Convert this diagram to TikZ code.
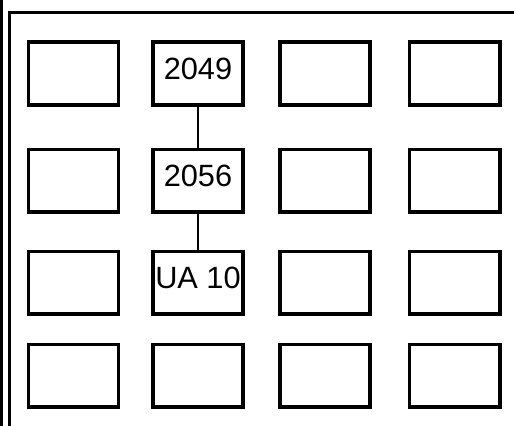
\documentclass[tikz,border=0pt]{standalone}
\usepackage{fontspec}
\setmainfont{Liberation Sans}
\usetikzlibrary{positioning}

\begin{document}
\begin{tikzpicture}[x=0.02cm, y=-0.02cm,
    cell/.style={rectangle, draw=black, line width=2pt, inner sep=0pt,
                 minimum width=1.81cm, minimum height=1.25cm,
                 text depth=0.2cm, font=\fontsize{17.5pt}{21pt}\selectfont},
    link/.style={draw=black, line width=1.6pt},
    frame/.style={draw=black, line width=1.8pt}]
  \useasboundingbox (0,0) rectangle (514,426);
  % frame
  \draw[frame] (1.2,0) -- (1.2,426);
  \draw[frame] (9.5,426) -- (9.5,12.5) -- (514,12.5);
  % empty cells
  \foreach \c/\cx in {1/73.5, 3/325, 4/454.5}
    \foreach \r/\ry in {1/73.5, 2/180.5, 3/282.5, 4/375.5}
      \node[cell] (b\r\c) at (\cx,\ry) {};
  % middle column
  \foreach \r/\ry/\txt in {1/73.5/2049, 2/180.5/2056, 3/282.5/UA 10, 4/375.5/{}}
    \node[cell] (b\r2) at (198,\ry) {\txt};
  \draw[link] (b12) -- (b22);
  \draw[link] (b22) -- (b32);
\end{tikzpicture}
\end{document}
